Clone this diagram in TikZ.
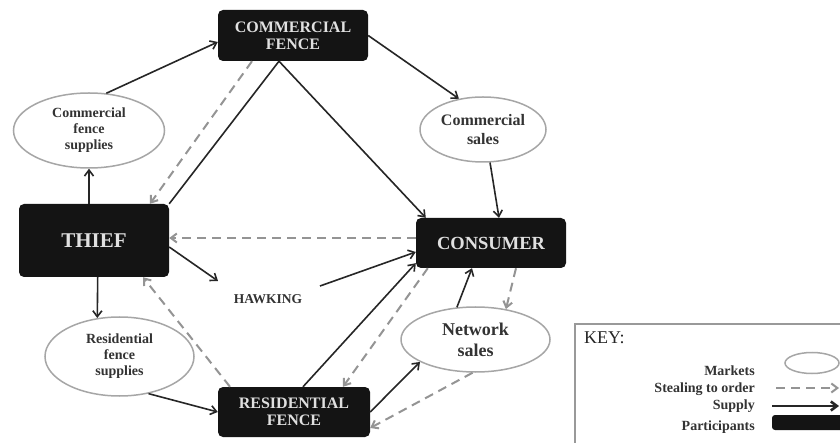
\documentclass[tikz,border=0pt]{standalone}
\usepackage{fontspec}
\setmainfont{Liberation Serif}
\usetikzlibrary{arrows.meta,shapes.geometric}
\begin{document}
\begin{tikzpicture}[x=1pt,y=-1pt,
  participant/.style={fill=black!92, rounded corners=5pt, text=white!88!black,
    font=\bfseries\fontsize{16}{17}\selectfont, align=center, inner sep=0pt},
  market/.style={ellipse, draw=black!35, line width=1.5pt, fill=white, text=black!80,
    font=\bfseries\fontsize{14}{16}\selectfont, align=center, inner sep=0pt},
  supply/.style={-{Straight Barb[length=6pt,width=9pt]}, line width=1.6pt, draw=black!85},
  order/.style={-{Straight Barb[length=6pt,width=9pt]}, line width=2pt, draw=black!42,
    dash pattern=on 9pt off 6pt},
  keylabel/.style={anchor=east, font=\bfseries\fontsize{14}{16}\selectfont, text=black!80, inner sep=0pt},
]
\useasboundingbox (0,0) rectangle (840,443);
\clip (0,0) rectangle (840,443);
\fill[white] (0,0) rectangle (840,443);

% participants
\node[participant, minimum width=150pt, minimum height=51pt] (cf) at (293,35.5) {COMMERCIAL\\FENCE};
\node[participant, minimum width=150pt, minimum height=73pt,
      font=\bfseries\fontsize{21}{24}\selectfont] (thief) at (94,240.5) {THIEF};
\node[participant, minimum width=150pt, minimum height=50pt,
      font=\bfseries\fontsize{18.5}{20}\selectfont] (cons) at (491,243) {CONSUMER};
\node[participant, minimum width=152pt, minimum height=50pt] (rf) at (294,412) {RESIDENTIAL\\FENCE};

% markets
\node[market, minimum width=151pt, minimum height=75pt] (cfs) at (89,130.5) {Commercial\\fence\\supplies};
\node[market, minimum width=126pt, minimum height=65pt,
      font=\bfseries\fontsize{16}{19}\selectfont] (cs) at (483,129.5) {Commercial\\sales};
\node[market, minimum width=149pt, minimum height=65pt,
      font=\bfseries\fontsize{18}{21}\selectfont] (ns) at (475.5,339.5) {Network\\sales};
\node[market, minimum width=149pt, minimum height=79pt] (rfs) at (119.5,356.5) {Residential\\fence\\supplies};

% hawking
\node[font=\bfseries\fontsize{13.5}{15}\selectfont, text=black!80] (hawk) at (268,299) {HAWKING};
\coordinate (hawkin) at (218,281);
\coordinate (hawkout) at (320,286);

% supply flows
\draw[supply] (cfs.65) -- ([yshift=-6.5pt]cf.west);
\draw[supply] (cf.east) -- (cs.128);
\draw[line width=1.6pt, draw=black!85] (thief.north east) -- ([xshift=-14pt]cf.south);
\draw[supply] ([xshift=-14pt]cf.south) -- ([xshift=10pt]cons.north west);
\draw[supply] (cs.-78) -- ([xshift=8pt]cons.north);
\draw[supply] ([xshift=-5pt]thief.north) -- (cfs.south);
\draw[supply] ([xshift=3.7pt]thief.south) -- (rfs.120);
\draw[supply] (rfs.-52) -- (rf.west);
\draw[supply] ([xshift=9pt]rf.north) -- ([yshift=5pt]cons.south west);
\draw[supply] ([yshift=-6.5pt]thief.east) -- (hawkin);
\draw[supply] (hawkout) -- ([yshift=-9pt]cons.west);
\draw[supply] (ns.120) -- ([xshift=-19pt]cons.south);
\draw[supply] (rf.east) -- (ns.202);

% stealing to order
\draw[order] ([xshift=-41pt]cf.south) -- ([xshift=56pt]thief.north);
\draw[order] ([yshift=5pt]cons.west) -- ([yshift=2.5pt]thief.east);
\draw[order] ([xshift=-64pt]rf.north) -- ([xshift=49pt]thief.south);
\draw[order] ([xshift=12pt]cons.south west) -- ([xshift=49pt]rf.north);
\draw[order] ([xshift=25pt]cons.south) -- (ns.45);
\draw[order] (ns.-95) -- ([yshift=-16pt]rf.east);

% key
\draw[draw=black!40, line width=1.4pt] (575,324) rectangle (850,455);
\node[anchor=west, font=\fontsize{18}{20}\selectfont, text=black!85, inner sep=0pt] (keytitle) at (584,338) {KEY:};
\node[keylabel] (kmarkets) at (755,371) {Markets};
\node[keylabel] (korder) at (755,389) {Stealing to order};
\node[keylabel] (ksupply) at (755,406) {Supply};
\node[keylabel] (kpart) at (755,427) {Participants};
\node[ellipse, draw=black!35, line width=1.5pt, minimum width=54pt, minimum height=21pt, inner sep=0pt] (kell) at (812,363) {};
\coordinate (kord1) at (776,388);
\coordinate (kord2) at (839,388);
\coordinate (ksup1) at (772,406);
\coordinate (ksup2) at (839,406);
\draw[order] (kord1) -- (kord2);
\draw[supply, line width=2.6pt] (ksup1) -- (ksup2);
\fill[black!92, rounded corners=3pt] (772,415) rectangle (850,430);
\end{tikzpicture}
\end{document}
